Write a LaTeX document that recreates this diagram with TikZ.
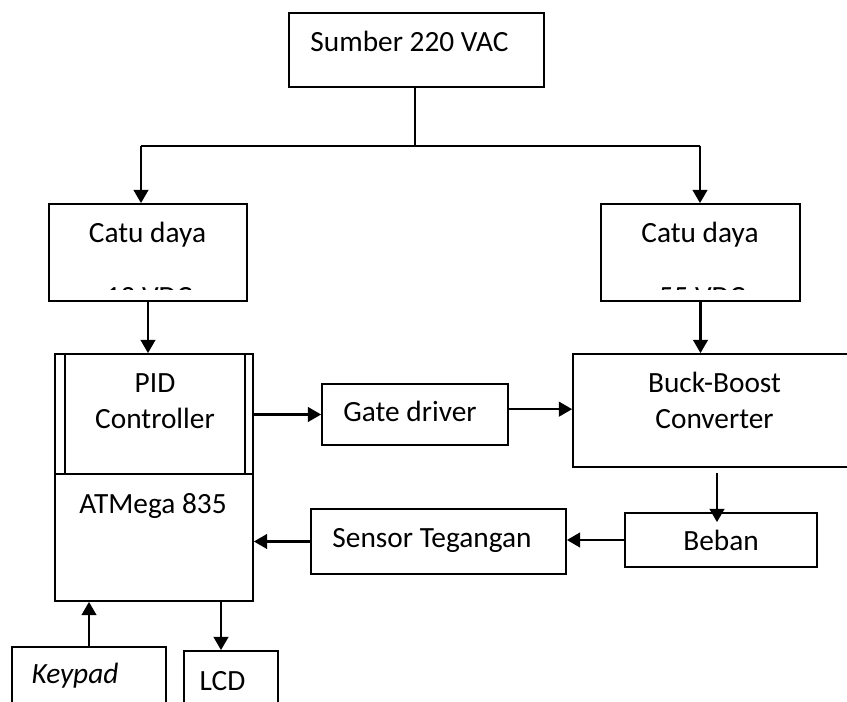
\documentclass[tikz,border=0pt]{standalone}
\usepackage{fontspec}
\setmainfont{Carlito}
\usetikzlibrary{arrows.meta,fit}

\begin{document}
\begin{tikzpicture}[
      x=0.75pt, y=-0.75pt,
      blok/.style = {rectangle, draw=black, line width=1.3pt, inner sep=0pt},
      teks/.style = {anchor=base, inner sep=0pt, font=\fontsize{22}{27}\selectfont},
      panah/.style = {-{Triangle[width=11pt,length=10pt]}, line width=1.8pt},
      garis/.style = {line width=1.4pt}
    ]
    \useasboundingbox (0,0) rectangle (847,702);
    \clip (0,0) rectangle (847,702);
    \node[blok, fit={(289,13) (544,87)}]   (sumber) {};
    \node[blok, fit={(49,204) (247,301)}]  (catu12) {};
    \node[blok, fit={(601,204) (800,301)}] (catu55) {};
    \node[blok, fit={(55,354) (253,601)}]  (pid) {};
    \node[blok, fit={(322,384) (508,445)}] (gate) {};
    \node[blok, fit={(573,354) (860,467)}] (buck) {};
    \node[blok, fit={(311,509) (566,574)}] (sensor) {};
    \node[blok, fit={(625,513) (817,567)}] (beban) {};
    \node[blok, fit={(12,647) (166,715)}]  (keypad) {};
    \node[blok, fit={(184,651) (278,715)}] (lcd) {};
    \coordinate (pisah) at (55,474);
    \draw[line width=1.3pt] (pisah) -- (pisah -| pid.east);
    \draw[line width=1.1pt] (65,354) -- (65,474) (245,354) -- (245,474);
    \node[teks] (sumber-t) at (409.5,52) {Sumber 220 VAC};
    \node[teks] (catu12-t) at (147.5,243) {Catu daya};
    \node[teks] (catu55-t) at (700,243) {Catu daya};
    \begin{scope}
      \clip (49,204) rectangle (247,289.5) (601,204) rectangle (800,289.5);
      \node[teks] (catu12-v) at (149,307) {12 VDC};
      \node[teks] (catu55-v) at (702,307) {55 VDC};
    \end{scope}
    \node[teks, align=center] (pid-t) at (155,429) {PID\\Controller};
    \node[teks] (atmega-t) at (153,513) {ATMega 835};
    \node[teks] (gate-t) at (410,422) {Gate driver};
    \node[teks, align=center] (buck-t) at (714.5,429) {Buck-Boost\\Converter};
    \node[teks] (sensor-t) at (432,547) {Sensor Tegangan};
    \node[teks] (beban-t) at (721,551) {Beban};
    \node[teks] (keypad-t) at (75,683) {\itshape Keypad};
    \node[teks] (lcd-t) at (222.5,690) {LCD};
    \coordinate (cabang) at (415,146);
    \coordinate (kiri) at (141,146);
    \coordinate (kanan) at (700,146);
    \draw[garis] (sumber.south -| cabang) -- (cabang);
    \draw[garis] (kiri) -- (kanan);
    \draw[panah] (kiri) -- (kiri |- catu12.north);
    \draw[panah] (kanan) -- (kanan |- catu55.north);
    \draw[panah] (catu12) -- (catu12 |- pid.north);
    \draw[panah] (catu55) -- (catu55 |- buck.north);
    \draw[panah] (pid.east |- gate) -- (gate);
    \draw[panah] ([yshift=4pt]gate.east) -- ([yshift=4pt]gate.east -| buck.west);
    \draw[panah] ([xshift=-3pt,yshift=-4pt]buck.south -| beban.north) -- ([xshift=-3pt,yshift=-7.5pt]beban.north);
    \draw[panah] (beban) -- (beban -| sensor.east);
    \draw[panah] (sensor) -- (sensor -| pid.east);
    \draw[panah] (keypad) -- (keypad |- pid.south);
    \draw[panah] ([xshift=-7.5pt]lcd.north |- pid.south) -- ([xshift=-7.5pt]lcd.north);
  \end{tikzpicture}
\end{document}
